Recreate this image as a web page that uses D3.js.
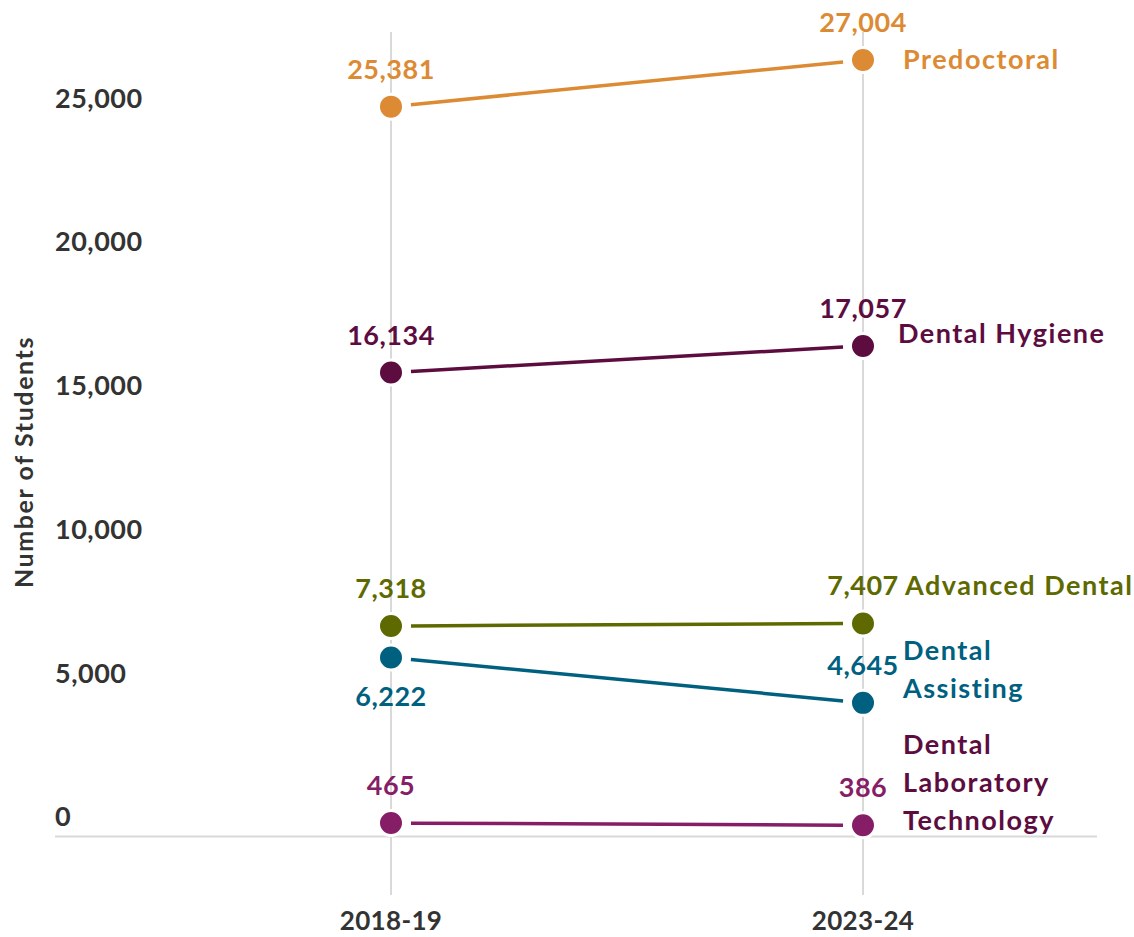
<!DOCTYPE html>
<html>
<head>
<meta charset="utf-8">
<script src="https://cdn.jsdelivr.net/npm/d3@7"></script>
<style>
  html, body { margin: 0; padding: 0; background: #fff; }
  svg { display: block; font-family: Lato, "Noto Sans", sans-serif; }
</style>
</head>
<body>
<svg id="chart" width="1134" height="937"></svg>
<script>
// Enrollment by program, two academic years
const years = ["2018-19", "2023-24"];
const programs = ["Predoctoral", "Dental Hygiene", "Advanced Dental", "Dental Assisting", "Dental Laboratory Technology"];
const values2018 = [25381, 16134, 7318, 6222, 465];
const values2023 = [27004, 17057, 7407, 4645, 386];
const yTicks = [0, 5000, 10000, 15000, 20000, 25000];

// Program label lines (wrapped) and colours
const labelLines = [["Predoctoral"], ["Dental Hygiene"], ["Advanced Dental"], ["Dental", "Assisting"], ["Dental", "Laboratory", "Technology"]];
const markColors = ["#DC8B34", "#5C0C3F", "#5E6A00", "#00607F", "#861E67"];
const labelColors = ["#DC8B34", "#5C0C3F", "#5E6A00", "#00607F", "#5C0C3F"];

// Layout tweaks for the end labels (baseline shift from the dot, x shift) and value label placement
const endLabelDy = [9, -3, -28, -43, -71];
const endLabelDx = [0, -5, 2, 0, 0];
const startValueBelow = [false, false, false, true, false];

const svg = d3.select("#chart");

const x = d3.scalePoint().domain(years).range([391, 863]);
const y = d3.scaleLinear().domain([0, 25000]).range([836.4, 117.6]);

const grid = "#d9d9d9";
const ink = "#333333";
const fmt = d3.format(",");

// vertical year guides
svg.append("g").selectAll("line").data(years).join("line")
  .attr("x1", d => x(d)).attr("x2", d => x(d))
  .attr("y1", 32).attr("y2", 895)
  .attr("stroke", grid).attr("stroke-width", 2);

// baseline
svg.append("line")
  .attr("x1", 55).attr("x2", 1097)
  .attr("y1", y(0)).attr("y2", y(0))
  .attr("stroke", grid).attr("stroke-width", 2);

// y tick labels, set just above their value
svg.append("g").selectAll("text").data(yTicks).join("text")
  .attr("x", 55).attr("y", d => y(d) - 10)
  .attr("fill", ink).attr("font-size", 27).attr("font-weight", 700)
  .attr("letter-spacing", 0.5)
  .text(d => fmt(d));

// x labels
svg.append("g").selectAll("text").data(years).join("text")
  .attr("x", d => x(d)).attr("y", 930)
  .attr("text-anchor", "middle")
  .attr("fill", ink).attr("font-size", 26).attr("font-weight", 700)
  .attr("letter-spacing", 0.3)
  .text(d => d);

// y axis title
svg.append("text")
  .attr("transform", "translate(33,462) rotate(-90)")
  .attr("text-anchor", "middle")
  .attr("fill", ink).attr("font-size", 25).attr("font-weight", 700)
  .attr("letter-spacing", 1.6)
  .text("Number of Students");

const rows = programs.map((p, i) => ({
  name: p, i,
  a: values2018[i], b: values2023[i],
  color: markColors[i], lcolor: labelColors[i]
}));

// connecting lines, trimmed so they stop short of the dots
const gap = 20;
svg.append("g").selectAll("line").data(rows).join("line")
  .each(function(d) {
    const x1 = x(years[0]), y1 = y(d.a), x2 = x(years[1]), y2 = y(d.b);
    const len = Math.hypot(x2 - x1, y2 - y1);
    const ux = (x2 - x1) / len, uy = (y2 - y1) / len;
    d3.select(this)
      .attr("x1", x1 + ux * gap).attr("y1", y1 + uy * gap)
      .attr("x2", x2 - ux * gap).attr("y2", y2 - uy * gap);
  })
  .attr("stroke", d => d.color).attr("stroke-width", 3.5);

// dots
const dots = rows.flatMap(d => [
  { cx: x(years[0]), cy: y(d.a), color: d.color },
  { cx: x(years[1]), cy: y(d.b), color: d.color }
]);
svg.append("g").selectAll("circle").data(dots).join("circle")
  .attr("cx", d => d.cx).attr("cy", d => d.cy).attr("r", 12.5)
  .attr("fill", d => d.color).attr("stroke", "#fff").attr("stroke-width", 3);

// value labels
const vals = rows.flatMap(d => [
  { x: x(years[0]), y: y(d.a) + (startValueBelow[d.i] ? 48 : -28), v: d.a, color: d.color },
  { x: x(years[1]), y: y(d.b) - 28, v: d.b, color: d.color }
]);
svg.append("g").selectAll("text").data(vals).join("text")
  .attr("x", d => d.x).attr("y", d => d.y)
  .attr("text-anchor", "middle")
  .attr("fill", d => d.color).attr("font-size", 27).attr("font-weight", 700)
  .attr("letter-spacing", 0.5)
  .text(d => fmt(d.v));

// program names at the right end
const lineH = 38;
const lab = svg.append("g").selectAll("text").data(rows).join("text")
  .attr("x", d => x(years[1]) + 40 + endLabelDx[d.i])
  .attr("y", d => y(d.b) + endLabelDy[d.i])
  .attr("fill", d => d.lcolor).attr("font-size", 27).attr("font-weight", 700)
  .attr("letter-spacing", 1.5);
lab.selectAll("tspan").data(d => labelLines[d.i].map(t => ({ t, x: x(years[1]) + 40 + endLabelDx[d.i] })))
  .join("tspan")
  .attr("x", d => d.x)
  .attr("dy", (d, k) => k === 0 ? 0 : lineH)
  .text(d => d.t);
</script>
</body>
</html>
